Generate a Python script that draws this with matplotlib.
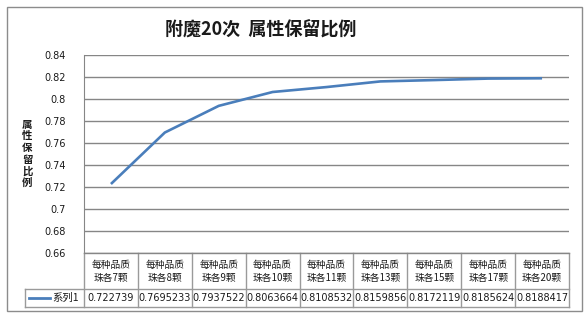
'''附魔20次 属性保留比例 - line chart with Excel-style data table.'''

import matplotlib
matplotlib.use('Agg')
import matplotlib.pyplot as plt
import numpy as np

plt.rcParams['font.family'] = ['Noto Sans CJK SC', 'DejaVu Sans']

# data
bead_counts = ['7', '8', '9', '10', '11', '13', '15', '17', '20']
categories = ['每种品质\n珠各%s颗' % n for n in bead_counts]
keep_ratio = [0.722739, 0.7695233, 0.7937522, 0.8063664, 0.8108532,
              0.8159856, 0.8172119, 0.8185624, 0.8188417]
value_labels = ['0.722739', '0.7695233', '0.7937522', '0.8063664', '0.8108532',
                '0.8159856', '0.8172119', '0.8185624', '0.8188417']
series_name = '系列1'
y_ticks = [0.66, 0.68, 0.7, 0.72, 0.74, 0.76, 0.78, 0.8, 0.82, 0.84]
y_tick_labels = ['0.66', '0.68', '0.7', '0.72', '0.74', '0.76', '0.78', '0.8', '0.82', '0.84']

W, H = 588, 319
LINE = '#4a7ebb'
GRID = '#868686'
TXT = '#1a1a1a'

fig = plt.figure(figsize=(W / 100, H / 100), dpi=100)
fig.patch.set_facecolor('white')

# plot area (pixel box: x 84..569, y 55..253)
ax = fig.add_axes([84 / W, (H - 253) / H, 485 / W, 198 / H])
n = len(categories)
x = np.arange(n)
ax.set_xlim(-0.5, n - 0.5)
ax.set_ylim(y_ticks[0], y_ticks[-1])
ax.set_yticks(y_ticks)
ax.set_yticklabels(y_tick_labels, fontsize=7, color=TXT, family='DejaVu Sans')
ax.set_xticks([])
ax.tick_params(axis='y', length=0, pad=13)
for t in y_ticks:
    ax.axhline(t, color=GRID, lw=1, zorder=1)
for s in ['top', 'right', 'bottom']:
    ax.spines[s].set_visible(False)
ax.spines['left'].set_color(GRID)
ax.plot(x, keep_ratio, color=LINE, lw=1.9, zorder=3, solid_capstyle='butt')

ax.set_ylabel('\n'.join('属性保留比例'), rotation=0, fontsize=7.5, fontweight='bold',
              color=TXT, linespacing=1.2, labelpad=0, va='center', ha='center')
ax.yaxis.set_label_coords(-0.117, 0.5)

fig.text(261 / W, (H - 30) / H, '附魔20次  属性保留比例', ha='center', va='center',
         fontsize=13, fontweight='bold', color=TXT)

# overlay in pixel coordinates for the data table and outer frame
ov = fig.add_axes([0, 0, 1, 1], zorder=5)
ov.set_xlim(0, W)
ov.set_ylim(H, 0)
ov.axis('off')
ov.patch.set_alpha(0)

ov.add_patch(plt.Rectangle((6.5, 6.5), 575, 304.5, fill=False, ec='#8c8c8c', lw=1))

fig.canvas.draw()
edges = [ax.transData.transform((i - 0.5, 0))[0] for i in range(n + 1)]
centers = [ax.transData.transform((i, 0))[0] for i in range(n)]

top, mid, bot = 253, 289, 307
leg_left = 25
tc = '#9a9a9a'
for e in edges:
    ov.plot([e, e], [top, bot], color=tc, lw=1)
ov.plot([edges[0], edges[-1]], [top, top], color=GRID, lw=1)
ov.plot([leg_left, edges[-1]], [mid, mid], color=tc, lw=1)
ov.plot([leg_left, edges[-1]], [bot, bot], color=tc, lw=1)
ov.plot([leg_left, leg_left], [mid, bot], color=tc, lw=1)

for cx, lab, val in zip(centers, categories, value_labels):
    ov.text(cx, (top + mid) / 2 + 0.5, lab, ha='center', va='center', fontsize=7,
            color=TXT, linespacing=1.3)
    ov.text(cx, (mid + bot) / 2, val, ha='center', va='center', fontsize=7,
            color=TXT, family='DejaVu Sans')

ov.plot([29, 50], [(mid + bot) / 2, (mid + bot) / 2], color=LINE, lw=2)
ov.text(52, (mid + bot) / 2, series_name, ha='left', va='center', fontsize=7.5, color=TXT)

fig.savefig('out.png', dpi=100)
